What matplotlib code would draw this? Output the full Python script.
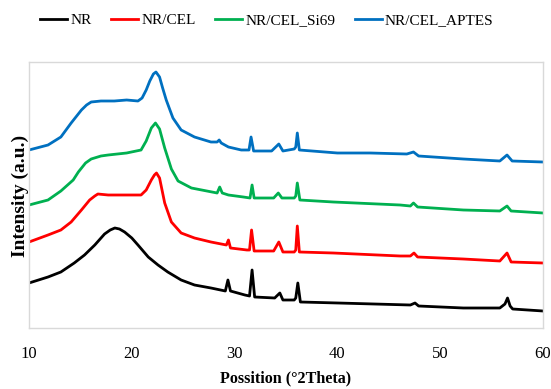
import matplotlib
matplotlib.use("Agg")
import matplotlib.pyplot as plt

plt.rcParams['font.family'] = ['Liberation Serif', 'DejaVu Serif']

labels = ["NR", "NR/CEL", "NR/CEL_Si69", "NR/CEL_APTES"]
colors = ["#000000", "#FF0000", "#00B050", "#0070C0"]

nr_x = [10.0, 11.85, 13.1, 14.4, 15.4, 16.4, 17.35, 17.9, 18.35, 18.8, 19.3, 20.0, 20.6, 21.6,
        22.55, 23.5, 24.8, 26.1, 27.7, 29.1, 29.35, 29.6, 31.0, 31.45, 31.7, 31.95, 33.9, 34.4,
        34.7, 35.8, 35.95, 36.15, 36.4, 40.05, 47.1, 47.55, 47.9, 52.25, 55.8, 56.3, 56.55, 56.8,
        57.05, 60.0]
nr_y = [45, 51, 56, 65, 73, 83, 94, 98, 100, 99, 96, 90, 83, 71,
        63, 56, 48, 43, 40, 37, 48, 37, 33, 32, 58, 31, 30, 35,
        28, 28, 30, 45, 26, 25, 23, 25, 22, 20, 20, 24, 30, 22,
        19, 17]

cel_x = [10.0, 11.85, 13.1, 14.1, 15.1, 15.9, 16.4, 16.7, 17.7, 19.5, 20.9, 21.4, 21.9, 22.2,
         22.4, 22.7, 23.2, 23.85, 24.8, 26.1, 27.7, 29.2, 29.4, 29.6, 31.2, 31.45, 31.65, 31.9,
         33.8, 34.3, 34.7, 35.8, 35.95, 36.1, 36.3, 39.6, 46.1, 47.1, 47.45, 47.8, 52.25, 55.8,
         56.5, 56.9, 60.0]
cel_y = [86, 93, 98, 106, 118, 128, 132, 134, 133, 133, 133, 138, 148, 153,
         155, 150, 125, 106, 95, 90, 86, 83, 88, 80, 78, 78, 98, 77,
         77, 86, 76, 76, 78, 102, 76, 75, 72, 72, 75, 71, 69, 67,
         75, 66, 65]

si69_x = [10.0, 11.85, 13.1, 14.3, 14.8, 15.5, 16.05, 17.0, 17.7, 19.5, 20.9, 21.4, 21.9, 22.3,
          22.7, 23.2, 23.85, 24.5, 25.8, 28.3, 28.55, 28.8, 29.4, 30.85, 31.5, 31.7, 31.9, 33.8,
          34.25, 34.6, 35.8, 35.95, 36.1, 36.35, 39.6, 46.1, 47.1, 47.4, 47.8, 52.25, 55.8, 56.5,
          56.9, 60.0]
si69_y = [123, 128, 137, 148, 156, 165, 169, 172, 173, 175, 178, 187, 200, 205,
          199, 180, 159, 147, 140, 135, 141, 135, 133, 131, 130, 143, 130, 130,
          135, 130, 130, 132, 145, 128, 126, 123, 122, 125, 121, 118, 117, 122,
          117, 115]

aptes_x = [10.0, 11.85, 13.1, 14.1, 15.1, 15.6, 16.05, 17.0, 18.3, 19.5, 20.6, 21.0, 21.4, 21.75,
           22.1, 22.35, 22.7, 23.0, 23.35, 24.0, 24.8, 26.1, 27.7, 28.3, 28.5, 28.7, 29.4, 30.65,
           31.4, 31.6, 31.85, 33.6, 34.3, 34.7, 35.8, 35.95, 36.1, 36.3, 40.0, 43.2, 46.75, 47.4,
           47.9, 52.25, 55.8, 56.5, 57.0, 60.0]
aptes_y = [178, 183, 191, 205, 218, 223, 226, 227, 227, 228, 227, 230, 238, 247,
           254, 256, 251, 240, 228, 210, 198, 191, 186, 186, 188, 185, 181, 178,
           178, 191, 177, 177, 184, 177, 179, 181, 195, 178, 175, 175, 174, 176,
           172, 169, 167, 173, 167, 166]

series_x = [nr_x, cel_x, si69_x, aptes_x]
series_y = [nr_y, cel_y, si69_y, aptes_y]

xticks = [10, 20, 30, 40, 50, 60]

fig = plt.figure(figsize=(5.51, 3.89), dpi=100)
ax = fig.add_axes([29/551, 1-328/389, (543-29)/551, (328-62)/389])

for xs, ys, c, lab in zip(series_x, series_y, colors, labels):
    ax.plot(xs, ys, color=c, lw=2.0, label=lab, solid_joinstyle='round')

ax.set_xlim(10, 60)
ax.set_ylim(0, 266)
ax.set_xticks(xticks)
ax.set_xticklabels([str(t) for t in xticks])
ax.set_yticks([])
ax.tick_params(axis='x', length=0, pad=13, labelsize=12)
for s in ax.spines.values():
    s.set_color('#D9D9D9')
    s.set_linewidth(1.0)

ax.set_xlabel("Possition (°2Theta)", fontsize=11.6, fontweight='bold', labelpad=6)
fig.text(20.5/551, 1-196/389, "Intensity (a.u.)", rotation=90, fontsize=14,
         fontweight='bold', ha='center', va='center')

fig.legend(loc='center', bbox_to_anchor=(267/551, 1-20/389), ncol=4, frameon=False,
           fontsize=11, handlelength=1.75, handletextpad=0.2, columnspacing=1.3)

fig.savefig("out.png", dpi=100)
